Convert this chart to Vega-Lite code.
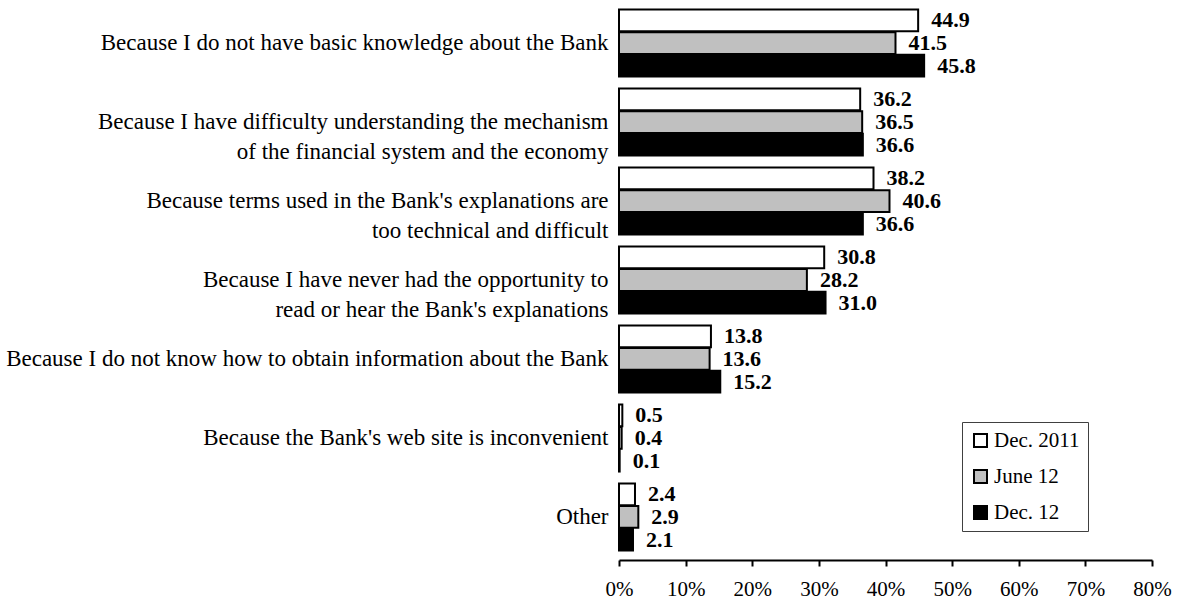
{
  "$schema": "https://vega.github.io/schema/vega-lite/v6.json",
  "autosize": {"type": "none"},
  "width": 533,
  "height": 560,
  "padding": {"left": 619, "top": 0, "right": 26, "bottom": 43},
  "background": "white",
  "config": {"view": {"stroke": null}, "font": "Liberation Serif"},
  "data": {"values": [
    {"cat": "Because I do not have basic knowledge about the Bank", "series": "Dec. 2011", "k": 1, "v": 44.9},
    {"cat": "Because I do not have basic knowledge about the Bank", "series": "June 12", "k": 2, "v": 41.5},
    {"cat": "Because I do not have basic knowledge about the Bank", "series": "Dec. 12", "k": 3, "v": 45.8},
    {"cat": "Because I have difficulty understanding the mechanism|of the financial system and the economy", "series": "Dec. 2011", "k": 1, "v": 36.2},
    {"cat": "Because I have difficulty understanding the mechanism|of the financial system and the economy", "series": "June 12", "k": 2, "v": 36.5},
    {"cat": "Because I have difficulty understanding the mechanism|of the financial system and the economy", "series": "Dec. 12", "k": 3, "v": 36.6},
    {"cat": "Because terms used in the Bank's explanations are|too technical and difficult", "series": "Dec. 2011", "k": 1, "v": 38.2},
    {"cat": "Because terms used in the Bank's explanations are|too technical and difficult", "series": "June 12", "k": 2, "v": 40.6},
    {"cat": "Because terms used in the Bank's explanations are|too technical and difficult", "series": "Dec. 12", "k": 3, "v": 36.6},
    {"cat": "Because I have never had the opportunity to|read or hear the Bank's explanations", "series": "Dec. 2011", "k": 1, "v": 30.8},
    {"cat": "Because I have never had the opportunity to|read or hear the Bank's explanations", "series": "June 12", "k": 2, "v": 28.2},
    {"cat": "Because I have never had the opportunity to|read or hear the Bank's explanations", "series": "Dec. 12", "k": 3, "v": 31.0},
    {"cat": "Because I do not know how to obtain information about the Bank", "series": "Dec. 2011", "k": 1, "v": 13.8},
    {"cat": "Because I do not know how to obtain information about the Bank", "series": "June 12", "k": 2, "v": 13.6},
    {"cat": "Because I do not know how to obtain information about the Bank", "series": "Dec. 12", "k": 3, "v": 15.2},
    {"cat": "Because the Bank's web site is inconvenient", "series": "Dec. 2011", "k": 1, "v": 0.5},
    {"cat": "Because the Bank's web site is inconvenient", "series": "June 12", "k": 2, "v": 0.4},
    {"cat": "Because the Bank's web site is inconvenient", "series": "Dec. 12", "k": 3, "v": 0.1},
    {"cat": "Other", "series": "Dec. 2011", "k": 1, "v": 2.4},
    {"cat": "Other", "series": "June 12", "k": 2, "v": 2.9},
    {"cat": "Other", "series": "Dec. 12", "k": 3, "v": 2.1}
  ]},
  "encoding": {
    "y": {
      "field": "cat", "type": "nominal", "sort": null,
      "scale": {"paddingInner": 0.15, "paddingOuter": 0.12},
      "axis": {
        "title": null, "domain": false, "ticks": false,
        "labelExpr": "split(datum.label, '|')",
        "labelFont": "Liberation Serif", "labelFontSize": 23, "labelColor": "black",
        "labelPadding": 11, "labelLineHeight": 30, "labelLimit": 700
      }
    },
    "yOffset": {"field": "k", "type": "ordinal", "scale": {"paddingInner": 0.04}},
    "x": {
      "field": "v", "type": "quantitative",
      "scale": {"domain": [0, 80]},
      "axis": {
        "title": null, "values": [0, 10, 20, 30, 40, 50, 60, 70, 80],
        "labelExpr": "datum.value + '%'", "grid": false, "labelFlush": false,
        "domainColor": "black", "domainWidth": 2, "tickColor": "black", "tickWidth": 2,
        "tickSize": 6, "labelFont": "Liberation Serif", "labelFontSize": 21,
        "labelColor": "black", "labelPadding": 12
      }
    }
  },
  "layer": [
    {
      "mark": {"type": "bar", "stroke": "black", "strokeWidth": 2},
      "encoding": {
        "fill": {
          "field": "series", "type": "nominal",
          "scale": {"domain": ["Dec. 2011", "June 12", "Dec. 12"], "range": ["white", "#c0c0c0", "black"]},
          "legend": {
            "title": null, "orient": "none", "legendX": 343, "legendY": 422,
            "symbolType": "square", "symbolSize": 169, "symbolStrokeColor": "black", "symbolStrokeWidth": 2,
            "labelFont": "Liberation Serif", "labelFontSize": 21, "labelColor": "black",
            "rowPadding": 14, "labelOffset": 3,
            "strokeColor": "#404040", "padding": 8, "fillColor": "white"
          }
        }
      }
    },
    {
      "mark": {"type": "text", "align": "left", "baseline": "middle", "dx": 13, "fontWeight": "bold", "fontSize": 22, "font": "Liberation Serif", "color": "black"},
      "encoding": {"text": {"field": "v", "type": "quantitative", "format": ".1f"}}
    }
  ]
}
